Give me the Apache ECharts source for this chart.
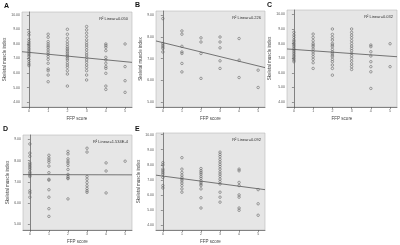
<!DOCTYPE html>
<html>
<head>
<meta charset="UTF-8">
<title>FFP score vs skeletal muscle index</title>
<script src="https://cdn.jsdelivr.net/npm/echarts@6/dist/echarts.min.js"></script>
<style>
  html, body { margin: 0; padding: 0; background: #fff; }
  #chart { width: 400px; height: 245px; }
</style>
</head>
<body>
<div id="chart"></div>
<script>
// FFP score categories (x axis)
var ffpScores = [0, 1, 2, 3, 4, 5];

// skeletal muscle index per FFP score, one inner list per score
var smiA = [
  [8.80, 8.62, 8.32, 8.16, 8.05, 7.93, 7.82, 7.70, 7.59, 7.47, 7.36, 7.24, 7.13, 6.94, 6.78, 6.62, 6.51],
  [8.67, 8.46, 8.16, 8.00, 7.86, 7.75, 7.59, 7.43, 7.29, 7.13, 6.94, 6.67, 6.28, 6.16, 5.86, 5.40],
  [9.01, 8.67, 8.39, 8.16, 7.98, 7.82, 7.70, 7.59, 7.47, 7.36, 7.24, 7.13, 7.01, 6.90, 6.71, 6.55, 6.39, 6.16, 5.93, 5.10],
  [9.20, 8.97, 8.74, 8.51, 8.28, 8.09, 7.93, 7.77, 7.59, 7.40, 7.24, 7.08, 6.90, 6.74, 6.55, 6.37, 6.16, 5.86, 5.52],
  [8.00, 7.89, 7.77, 7.54, 7.08, 6.90, 6.67, 6.44, 6.32, 5.98, 5.10, 4.87],
  [8.00, 6.44, 5.47, 4.67]
];
var smiB = [
  [8.85, 7.70, 7.62, 7.54, 7.47, 7.31],
  [8.28, 8.13, 7.57, 7.31, 7.24, 6.78, 6.39],
  [7.96, 7.77, 7.24, 6.09],
  [8.00, 7.77, 7.50, 6.90, 6.55],
  [7.93, 6.93, 6.13],
  [6.47, 5.67]
];
var smiC = [
  [8.77, 8.58, 8.42, 8.24, 8.13, 8.01, 7.90, 7.79, 7.67, 7.56, 7.44, 7.33, 7.21, 7.10, 6.99, 6.87, 6.76],
  [8.65, 8.42, 8.20, 8.01, 7.90, 7.79, 7.63, 7.44, 7.28, 7.10, 6.92, 6.69, 6.30],
  [9.00, 8.63, 8.42, 8.24, 8.01, 7.90, 7.79, 7.60, 7.44, 7.33, 7.21, 7.10, 6.92, 6.76, 6.53, 6.30, 5.84],
  [9.00, 8.77, 8.58, 8.40, 8.20, 8.01, 7.83, 7.67, 7.51, 7.33, 7.17, 6.99, 6.80, 6.60, 6.42, 6.23],
  [7.90, 7.79, 7.44, 7.15, 6.76, 6.42, 6.07, 4.93],
  [7.99, 6.42]
];
var smiD = [
  [8.78, 8.35, 8.20, 7.89, 7.82, 7.74, 7.66, 7.58, 7.46, 7.40, 7.31, 7.25, 6.58, 6.48, 6.28],
  [8.25, 8.12, 8.02, 7.92, 7.74, 7.43, 7.12, 7.08, 6.63, 6.28, 5.74, 5.38],
  [8.43, 8.31, 8.08, 7.97, 7.89, 7.77, 7.58, 7.35, 7.25, 7.18, 7.15, 6.20],
  [8.58, 8.40, 7.25, 7.12, 6.97, 6.82, 6.69, 6.58, 6.51],
  [7.89, 7.51, 6.48],
  [7.97]
];
var smiE = [
  [8.14, 7.99, 7.71, 7.60, 7.49, 7.38, 7.16, 6.62, 6.46],
  [8.47, 7.71, 7.49, 7.31, 7.16, 7.05, 6.94, 6.79, 6.62, 6.40, 6.18],
  [7.75, 7.60, 7.49, 7.38, 7.23, 7.10, 6.94, 6.83, 6.72, 6.62, 6.40, 5.81, 5.13],
  [8.84, 8.69, 8.54, 8.36, 8.19, 8.03, 7.88, 7.71, 7.53, 7.38, 7.23, 7.05, 6.88, 6.72, 6.18, 5.85, 5.52],
  [7.71, 7.60, 6.83, 6.62, 6.00, 5.85, 5.13, 4.98],
  [6.35, 5.41, 4.65]
];

// linear fit lines
var fitIntercept = [7.42, 7.74, 7.60, 7.34, 7.25];
var fitSlope = [-0.128, -0.215, -0.093, -0.002, -0.168];
var r2Labels = ['R\u00b2 Linear=0.050', 'R\u00b2 Linear=0.226', 'R\u00b2 Linear=0.032', 'R\u00b2 Linear=1.534E-4', 'R\u00b2 Linear=0.092'];

// y tick labels
var yTicks7 = [4, 5, 6, 7, 8, 9, 10];
var yTicks5 = [5, 6, 7, 8, 9];

var panels = [
  { letter: 'A', data: smiA, ticks: yTicks7, left: 22, top: 12, width: 110, height: 95, ymin: 3.66, ymax: 10.2, lx: 4, ly: 3 },
  { letter: 'B', data: smiB, ticks: yTicks5, left: 156, top: 11, width: 109, height: 96, ymin: 4.77, ymax: 9.2, lx: 135, ly: 2 },
  { letter: 'C', data: smiC, ticks: yTicks7, left: 287, top: 10, width: 110, height: 97, ymin: 3.66, ymax: 10.3, lx: 267, ly: 2 },
  { letter: 'D', data: smiD, ticks: yTicks5, left: 23, top: 135, width: 109, height: 97, ymin: 4.74, ymax: 9.2, lx: 3, ly: 126 },
  { letter: 'E', data: smiE, ticks: yTicks7, left: 156, top: 133, width: 109, height: 99, ymin: 3.67, ymax: 10.11, lx: 135, ly: 126 }
];

var xMin = -0.36, xMax = 5.36;
var fontFam = '"Liberation Sans", Arial, sans-serif';

var chart = echarts.init(document.getElementById('chart'), null, { renderer: 'canvas' });
var grid = [], xAxis = [], yAxis = [], series = [], graphic = [];

panels.forEach(function (p, i) {
  grid.push({
    left: p.left, top: p.top, width: p.width, height: p.height,
    show: true, backgroundColor: '#e6e6e6', borderColor: '#b8b8b8', borderWidth: 0.6
  });
  xAxis.push({
    gridIndex: i, type: 'value', min: xMin, max: xMax,
    name: 'FFP score', nameLocation: 'middle', nameGap: 9,
    nameTextStyle: { fontSize: 4.5, color: '#444', fontFamily: fontFam },
    axisLine: { lineStyle: { color: '#555', width: 0.7 } },
    axisTick: { length: 2, lineStyle: { color: '#555', width: 0.6 }, customValues: ffpScores },
    axisLabel: { fontSize: 3.5, color: '#555', margin: 2, fontFamily: fontFam, customValues: ffpScores },
    splitLine: { show: false }
  });
  yAxis.push({
    gridIndex: i, type: 'value', min: p.ymin, max: p.ymax,
    name: 'Skeletal muscle index', nameLocation: 'middle', nameGap: 10,
    nameTextStyle: { fontSize: 4.5, color: '#444', fontFamily: fontFam },
    axisLine: { show: true, lineStyle: { color: '#555', width: 0.7 } },
    axisTick: { length: 2, lineStyle: { color: '#555', width: 0.6 }, customValues: p.ticks },
    axisLabel: {
      fontSize: 3.5, color: '#555', margin: 2, fontFamily: fontFam, customValues: p.ticks,
      formatter: function (v) { return v.toFixed(2); }
    },
    splitLine: { show: false }
  });
  var pts = [];
  p.data.forEach(function (col, s) {
    col.forEach(function (v) { pts.push([ffpScores[s], v]); });
  });
  series.push({
    type: 'scatter', xAxisIndex: i, yAxisIndex: i, data: pts,
    symbol: 'circle', symbolSize: 2.5,
    itemStyle: { color: 'rgba(0,0,0,0)', borderColor: '#666', borderWidth: 0.6, opacity: 1 },
    silent: true
  });
  series.push({
    type: 'line', xAxisIndex: i, yAxisIndex: i, symbol: 'none',
    data: [[xMin, fitIntercept[i] + fitSlope[i] * xMin], [xMax, fitIntercept[i] + fitSlope[i] * xMax]],
    lineStyle: { color: '#555', width: 0.8 }, silent: true
  });
  graphic.push({
    type: 'text', left: p.lx, top: p.ly,
    style: { text: p.letter, font: 'bold 7px ' + fontFam, fill: '#111' }
  });
  graphic.push({
    type: 'text', right: 400 - (p.left + p.width) + 4, top: p.top + 5,
    style: { text: r2Labels[i], font: '4px ' + fontFam, fill: '#333' }
  });
});

chart.setOption({
  animation: false,
  backgroundColor: '#fff',
  grid: grid, xAxis: xAxis, yAxis: yAxis, series: series, graphic: graphic
});
</script>
</body>
</html>
